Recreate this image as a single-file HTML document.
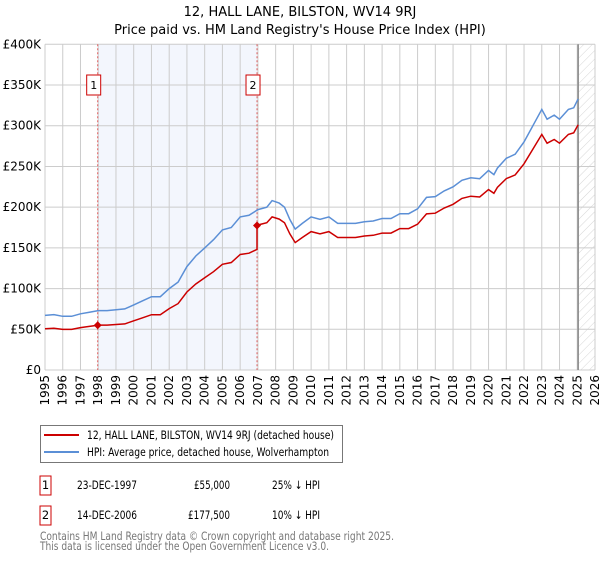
<!DOCTYPE html>
<html><head><meta charset="utf-8"><style>
body{margin:0;background:#fff;font-family:"Liberation Sans","DejaVu Sans",sans-serif;}
svg text{font-family:"DejaVu Sans","Liberation Sans",sans-serif;}
</style></head><body>
<svg id="chart" width="600" height="560" xmlns="http://www.w3.org/2000/svg">
<defs><pattern id="hatch" width="6" height="6" patternUnits="userSpaceOnUse" patternTransform="rotate(45)"><line x1="0" y1="0" x2="0" y2="6" stroke="#ccc" stroke-width="0.8"/></pattern></defs>
<text x="300" y="16" text-anchor="middle" font-size="13">12, HALL LANE, BILSTON, WV14 9RJ</text>
<text x="300" y="34" text-anchor="middle" font-size="13">Price paid vs. HM Land Registry's House Price Index (HPI)</text>
<g id="plot"></g>
<g>
<rect x="40.5" y="425.5" width="302" height="37" fill="#fff" stroke="#777"/>
<line x1="44" y1="435" x2="79" y2="435" stroke="#cc0000" stroke-width="2"/>
<text x="87" y="439" font-size="11.5" textLength="247" lengthAdjust="spacingAndGlyphs">12, HALL LANE, BILSTON, WV14 9RJ (detached house)</text>
<line x1="44" y1="452" x2="79" y2="452" stroke="#5b8fd6" stroke-width="2"/>
<text x="87" y="456" font-size="11.5" textLength="242" lengthAdjust="spacingAndGlyphs">HPI: Average price, detached house, Wolverhampton</text>
</g>
<g font-size="11.5">
<rect x="40" y="476" width="11" height="19" fill="none" stroke="#cc0000"/>
<text x="45.5" y="489" text-anchor="middle">1</text>
<text x="77" y="489" textLength="60" lengthAdjust="spacingAndGlyphs">23-DEC-1997</text><text x="194" y="489" textLength="36" lengthAdjust="spacingAndGlyphs">£55,000</text><text x="272" y="489" textLength="48" lengthAdjust="spacingAndGlyphs">25% ↓ HPI</text>
<rect x="40" y="506" width="11" height="19" fill="none" stroke="#cc0000"/>
<text x="45.5" y="519" text-anchor="middle">2</text>
<text x="77" y="519" textLength="60" lengthAdjust="spacingAndGlyphs">14-DEC-2006</text><text x="188" y="519" textLength="42" lengthAdjust="spacingAndGlyphs">£177,500</text><text x="272" y="519" textLength="48" lengthAdjust="spacingAndGlyphs">10% ↓ HPI</text>
</g>
<text x="40" y="540" font-size="11.5" fill="#777" textLength="354" lengthAdjust="spacingAndGlyphs">Contains HM Land Registry data © Crown copyright and database right 2025.</text>
<text x="40" y="550" font-size="11.5" fill="#777" textLength="289" lengthAdjust="spacingAndGlyphs">This data is licensed under the Open Government Licence v3.0.</text>
</svg>
<script>
const hpiYears=[1995,1995.5,1996,1996.5,1997,1997.5,1998,1998.5,1999,1999.5,2000,2000.5,2001,2001.5,2002,2002.5,2003,2003.5,2004,2004.5,2005,2005.5,2006,2006.5,2007,2007.5,2007.8,2008.2,2008.5,2008.8,2009.1,2009.5,2010,2010.5,2011,2011.5,2012,2012.5,2013,2013.5,2014,2014.5,2015,2015.5,2016,2016.5,2017,2017.5,2018,2018.5,2019,2019.5,2020,2020.3,2020.5,2021,2021.5,2022,2022.5,2023,2023.3,2023.7,2024,2024.5,2024.8,2025.05];
const hpiValues=[67,68,66,66,69,71,73,73,74,75,80,85,90,90,100,108,127,140,150,160,172,175,188,190,197,200,208,205,200,185,173,180,188,185,188,180,180,180,182,183,186,186,192,192,198,212,213,220,225,233,236,235,245,240,248,260,265,280,300,320,308,313,308,320,322,333];
const saleYears=[1997.97,2006.95];
const salePrices=[55,177.5];
const saleLabels=["1","2"];
const yTicks=[0,50,100,150,200,250,300,350,400];
const yTickLabels=["£0","£50K","£100K","£150K","£200K","£250K","£300K","£350K","£400K"];
const xTicks=[1995,1996,1997,1998,1999,2000,2001,2002,2003,2004,2005,2006,2007,2008,2009,2010,2011,2012,2013,2014,2015,2016,2017,2018,2019,2020,2021,2022,2023,2024,2025,2026];

const X0=45,X1=595,Y0=370,Y1=44.3;
const xs=y=>X0+(y-1995)/(2026-1995)*(X1-X0);
const ys=v=>Y0-v/400*(Y0-Y1);
const NS="http://www.w3.org/2000/svg";
const plot=document.getElementById('plot');
function mk(t,a,p){const e=document.createElementNS(NS,t);for(const k in a)e.setAttribute(k,a[k]);(p||plot).appendChild(e);return e;}
function hpiAt(t){for(let i=0;i<hpiYears.length-1;i++){if(t<=hpiYears[i+1]){const f=(t-hpiYears[i])/(hpiYears[i+1]-hpiYears[i]);return hpiValues[i]+f*(hpiValues[i+1]-hpiValues[i]);}}return hpiValues[hpiValues.length-1];}

let r=mk('rect',{x:xs(saleYears[0]),y:Y1,width:xs(saleYears[1])-xs(saleYears[0]),height:Y0-Y1,fill:'#f3f6fd'});


const lastX=xs(hpiYears[hpiYears.length-1]);
let h=mk('rect',{x:lastX,y:Y1,width:X1-lastX,height:Y0-Y1,fill:'url(#hatch)'});


yTicks.forEach((v,i)=>{
 let l=mk('line',{x1:X0,x2:X1,y1:ys(v),y2:ys(v),stroke:'#ccc'});
 
 
 let t=mk('text',{x:X0-4,y:ys(v)+4,'text-anchor':'end','font-size':'12'});t.textContent=yTickLabels[i];
 
 
});
xTicks.forEach(y=>{
 let l=mk('line',{x1:xs(y),x2:xs(y),y1:Y1,y2:Y0,stroke:'#ccc'});
 
 
 let t=mk('text',{x:0,y:0,'font-size':'12','text-anchor':'end',transform:`translate(${xs(y)+4},${Y0+5}) rotate(-90)`});t.textContent=y;
 
 
});
let vl=mk('line',{x1:lastX,x2:lastX,y1:Y1,y2:Y0,stroke:'#888','stroke-width':1.5});


saleYears.forEach((s,i)=>{
 let l=mk('line',{x1:xs(s),x2:xs(s),y1:Y1,y2:Y0,stroke:'#e06060','stroke-dasharray':'2,2'});
 
 
 let b=mk('rect',{x:xs(s)-11,y:75,width:14,height:20,fill:'#fff',stroke:'#cc0000'});
 
 
 let t=mk('text',{x:xs(s)-4,y:89,'text-anchor':'middle','font-size':'11'});t.textContent=saleLabels[i];
 
 
});
let d=hpiYears.map((y,i)=>(i?'L':'M')+xs(y).toFixed(1)+','+ys(hpiValues[i]).toFixed(1)).join('');
let hp=mk('path',{d:d,fill:'none',stroke:'#5b8fd6','stroke-width':1.5});


function ratioAt(t){let idx=0;for(let i=0;i<saleYears.length;i++)if(t>=saleYears[i])idx=i;return salePrices[idx]/hpiAt(saleYears[idx]);}
let pts=[];
hpiYears.forEach((y,i)=>{
 saleYears.forEach((s,j)=>{if(s>(i?hpiYears[i-1]:0)&&s<=y){pts.push([s,hpiAt(s)*ratioAt(s-0.001)]);pts.push([s,salePrices[j]]);}});
 pts.push([y,hpiValues[i]*ratioAt(y)]);
});
let pd=pts.map((p,i)=>(i?'L':'M')+xs(p[0]).toFixed(1)+','+ys(p[1]).toFixed(1)).join('');
let pp=mk('path',{d:pd,fill:'none',stroke:'#cc0000','stroke-width':1.5});


saleYears.forEach((s,i)=>{
 const cx=xs(s),cy=ys(salePrices[i]);
 let m=mk('path',{d:`M${cx-4},${cy}L${cx},${cy-4}L${cx+4},${cy}L${cx},${cy+4}Z`,fill:'#cc0000'});
 
 
});
</script>
</body></html>
